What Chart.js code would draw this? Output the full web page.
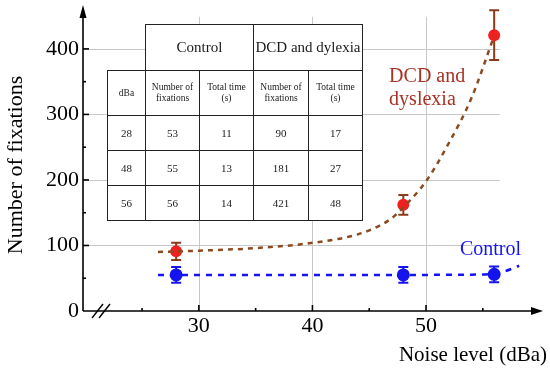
<!DOCTYPE html>
<html>
<head>
<meta charset="utf-8">
<script src="https://cdn.jsdelivr.net/npm/chart.js@4"></script>
<style>
  body { margin: 0; background: #fff; }
  #wrap { position: relative; width: 550px; height: 374px; }
  #inset {
    position: absolute; left: 107px; top: 24px;
    border-collapse: collapse; table-layout: fixed; width: 255px;
    font-family: "Liberation Serif", "Times New Roman", serif; color: #1a1a1a;
  }
  #inset td { border: 1.3px solid #222; background: #fff; text-align: center; padding: 0; line-height: 1.15; }
  #inset td.blank { border: none; background: transparent; }
  #inset tr.group td { font-size: 15px; height: 45px; }
  #inset tr.sub td { font-size: 9.5px; height: 44px; }
  #inset tr.row td { font-size: 11px; height: 34px; }
</style>
</head>
<body>
<div id="wrap">
  <canvas id="noiseChart" width="550" height="374"></canvas>
  <table id="inset">
    <colgroup>
      <col style="width:38px"><col style="width:54px"><col style="width:54px"><col style="width:55px"><col style="width:54px">
    </colgroup>
    <tbody id="insetBody"></tbody>
  </table>
</div>
<script>
// measured points
const noiseLevels = [28, 48, 56];
const controlMean = [55, 55, 56];
const controlErr = [12, 12, 12];
const dcdMean = [91, 162, 421];
const dcdErr = [13, 15, 38];

// fitted curves
const dcdFitX = [26.4, 30, 35, 40, 44, 46, 47, 48, 50, 52, 54, 56];
const dcdFitY = [90, 92, 96, 104, 117, 131, 142, 158, 198, 256, 325, 420];
const controlFitX = [26.4, 35, 45, 54, 56, 57, 58.2];
const controlFitY = [55, 55, 55, 55.5, 57, 61, 69];

// axis ticks
const xTicks = [30, 40, 50];
const xMinorTicks = [25, 35, 45, 55];
const yTicks = [0, 100, 200, 300, 400];
const yMinorTicks = [50, 150, 250, 350];

// inset table
const groupHeaders = ["Control", "DCD and dylexia"];
const subHeaders = ["dBa", "Number of<br>fixations", "Total time<br>(s)", "Number of<br>fixations", "Total time<br>(s)"];
const tableRows = [
  [28, 53, 11, 90, 17],
  [48, 55, 13, 181, 27],
  [56, 56, 14, 421, 48],
];

const serif = "'Liberation Serif', 'Times New Roman', serif";
const dcdText = "#a83224";
const dcdLine = "#8c4a1e";
const dcdBar = "#8b3a1a";
const blue = "#1414ee";

let html = '<tr class="group"><td class="blank"></td>';
groupHeaders.forEach(h => { html += '<td colspan="2">' + h + "</td>"; });
html += "</tr><tr class=\"sub\">";
subHeaders.forEach(h => { html += "<td>" + h + "</td>"; });
html += "</tr>";
tableRows.forEach(r => {
  html += '<tr class="row">' + r.map(v => "<td>" + v + "</td>").join("") + "</tr>";
});
document.getElementById("insetBody").innerHTML = html;

function toPoints(xs, ys) {
  return xs.map((v, i) => ({ x: v, y: ys[i] }));
}

function drawErrors(ctx, x, y, means, errs, color) {
  ctx.save();
  ctx.strokeStyle = color;
  ctx.lineWidth = 2;
  noiseLevels.forEach((n, i) => {
    const px = x.getPixelForValue(n);
    const top = y.getPixelForValue(means[i] + errs[i]);
    const bot = y.getPixelForValue(means[i] - errs[i]);
    ctx.beginPath();
    ctx.moveTo(px, top); ctx.lineTo(px, bot);
    ctx.moveTo(px - 5, top); ctx.lineTo(px + 5, top);
    ctx.moveTo(px - 5, bot); ctx.lineTo(px + 5, bot);
    ctx.stroke();
  });
  ctx.restore();
}

function line(ctx, x1, y1, x2, y2) {
  ctx.beginPath();
  ctx.moveTo(x1, y1);
  ctx.lineTo(x2, y2);
  ctx.stroke();
}

const decor = {
  id: "decor",
  beforeDatasetsDraw(chart) {
    const { ctx, scales: { x, y } } = chart;
    ctx.save();
    ctx.strokeStyle = "#c8c8c8";
    ctx.lineWidth = 1;
    yTicks.filter(v => v > 0).forEach(v => {
      const py = Math.round(y.getPixelForValue(v)) + 0.5;
      line(ctx, x.left, py, x.getPixelForValue(56.5), py);
    });
    xTicks.forEach(v => {
      const px = Math.round(x.getPixelForValue(v)) + 0.5;
      line(ctx, px, y.getPixelForValue(0), px, y.getPixelForValue(449));
    });
    ctx.restore();
  },
  beforeDatasetDraw(chart, args) {
    const { ctx, scales: { x, y } } = chart;
    if (args.index === 2) drawErrors(ctx, x, y, dcdMean, dcdErr, dcdBar);
    if (args.index === 3) drawErrors(ctx, x, y, controlMean, controlErr, blue);
  },
  afterDraw(chart) {
    const { ctx, scales: { x, y } } = chart;
    const x0 = x.left;
    const y0 = y.getPixelForValue(0);
    const yTop = y.getPixelForValue(467);
    const xEnd = x.getPixelForValue(60.3);
    ctx.save();
    ctx.strokeStyle = "#000";
    ctx.fillStyle = "#000";
    ctx.lineWidth = 1.6;
    // axes
    line(ctx, x0, y0, x0, yTop + 8);
    line(ctx, x0, y0, xEnd - 8, y0);
    ctx.beginPath();
    ctx.moveTo(x0, yTop); ctx.lineTo(x0 - 3.5, yTop + 13); ctx.lineTo(x0 + 3.5, yTop + 13);
    ctx.closePath(); ctx.fill();
    ctx.beginPath();
    ctx.moveTo(xEnd, y0); ctx.lineTo(xEnd - 12, y0 - 4); ctx.lineTo(xEnd - 12, y0 + 4);
    ctx.closePath(); ctx.fill();
    // ticks
    xTicks.forEach(v => { const p = x.getPixelForValue(v); line(ctx, p, y0, p, y0 - 6); });
    xMinorTicks.forEach(v => { const p = x.getPixelForValue(v); line(ctx, p, y0, p, y0 - 3); });
    yTicks.filter(v => v > 0).forEach(v => { const p = y.getPixelForValue(v); line(ctx, x0, p, x0 + 6, p); });
    yMinorTicks.forEach(v => { const p = y.getPixelForValue(v); line(ctx, x0, p, x0 + 3, p); });
    // axis break
    ctx.lineWidth = 1.4;
    line(ctx, x0 + 9, y0 + 7, x0 + 20, y0 - 7);
    line(ctx, x0 + 16, y0 + 7, x0 + 27, y0 - 7);
    // y axis title (placed a bit below the plot centre, as in the figure)
    ctx.save();
    ctx.font = "22px " + serif;
    ctx.textAlign = "center";
    ctx.textBaseline = "middle";
    ctx.translate(16, 165);
    ctx.rotate(-Math.PI / 2);
    ctx.fillText("Number of fixations", 0, 0);
    ctx.restore();
    // curve labels
    ctx.font = "20px " + serif;
    ctx.textBaseline = "middle";
    ctx.fillStyle = dcdText;
    ctx.fillText("DCD and", x.getPixelForValue(46.75), y.getPixelForValue(357));
    ctx.fillText("dyslexia", x.getPixelForValue(46.75), y.getPixelForValue(322));
    ctx.fillStyle = blue;
    ctx.fillText("Control", x.getPixelForValue(52.98), y.getPixelForValue(93));
    ctx.restore();
  },
};

const ctx = document.getElementById("noiseChart").getContext("2d");
const noiseChart = new Chart(ctx, {
  data: {
    datasets: [
      {
        type: "line",
        label: "DCD and dyslexia fit",
        data: toPoints(dcdFitX, dcdFitY),
        borderColor: dcdLine,
        borderWidth: 2.5,
        borderDash: [5, 5],
        pointRadius: 0,
        cubicInterpolationMode: "monotone",
        fill: false,
      },
      {
        type: "line",
        label: "Control fit",
        data: toPoints(controlFitX, controlFitY),
        borderColor: blue,
        borderWidth: 2.5,
        borderDash: [6, 6],
        pointRadius: 0,
        cubicInterpolationMode: "monotone",
        fill: false,
      },
      {
        type: "scatter",
        label: "DCD and dyslexia",
        data: toPoints(noiseLevels, dcdMean),
        backgroundColor: "#ee2020",
        borderWidth: 0,
        pointRadius: 6,
      },
      {
        type: "scatter",
        label: "Control",
        data: toPoints(noiseLevels, controlMean),
        backgroundColor: blue,
        borderWidth: 0,
        pointRadius: 6.5,
      },
    ],
  },
  options: {
    responsive: false,
    animation: false,
    devicePixelRatio: 1,
    layout: { autoPadding: false, padding: { top: 5, right: 3, bottom: 0, left: 0 } },
    plugins: { legend: { display: false }, tooltip: { enabled: false } },
    scales: {
      x: {
        type: "linear",
        min: 19.8,
        max: 60.65,
        grid: { display: false, drawTicks: false },
        border: { display: false },
        afterBuildTicks: scale => { scale.ticks = xTicks.map(v => ({ value: v })); },
        afterFit: scale => {
          scale.height = 63;
          scale.paddingLeft = 0;
          scale.paddingRight = 0;
        },
        ticks: { color: "#000", padding: 2, maxRotation: 0, font: { family: serif, size: 22 } },
        title: {
          display: true,
          text: "Noise level (dBa)",
          align: "end",
          color: "#000",
          padding: { top: 0, bottom: 6 },
          font: { family: serif, size: 21 },
        },
      },
      y: {
        type: "linear",
        min: 0,
        max: 467,
        grid: { display: false, drawTicks: false },
        border: { display: false },
        afterBuildTicks: scale => { scale.ticks = yTicks.map(v => ({ value: v })); },
        afterFit: scale => {
          scale.width = 83;
          scale.paddingTop = 0;
          scale.paddingBottom = 0;
        },
        ticks: { color: "#000", padding: 4, font: { family: serif, size: 22 } },
      },
    },
  },
  plugins: [decor],
});
</script>
</body>
</html>
